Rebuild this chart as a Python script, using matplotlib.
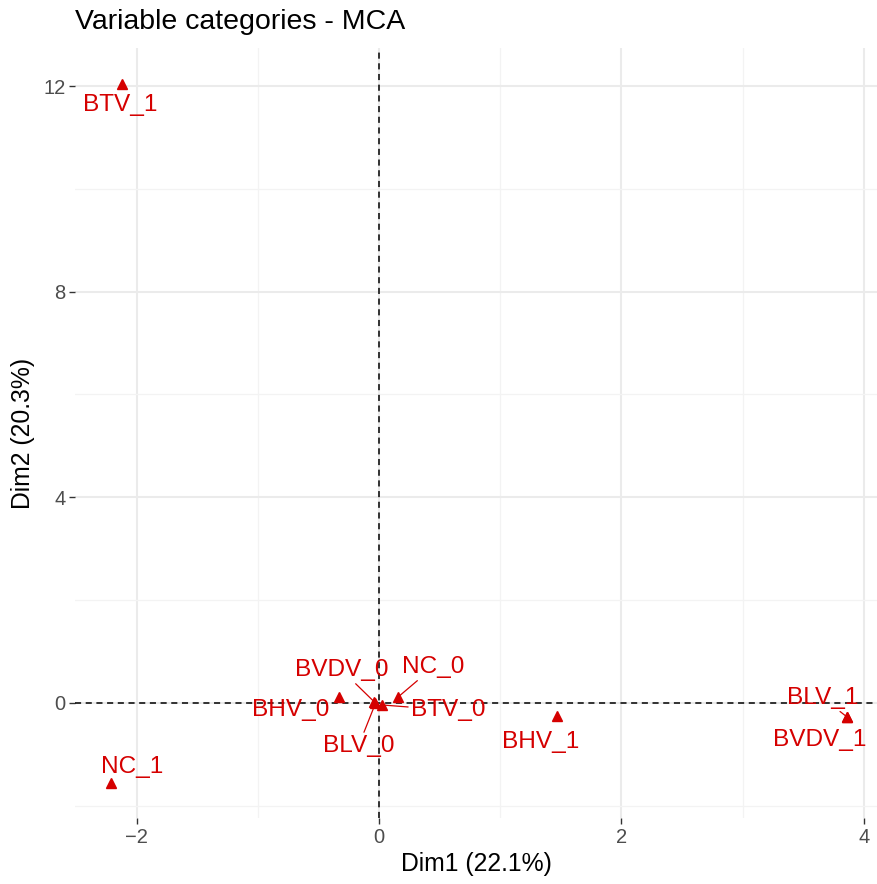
import matplotlib
matplotlib.use("Agg")
import matplotlib.pyplot as plt

plt.rcParams["font.family"] = ["Liberation Sans", "DejaVu Sans"]

# MCA variable category coordinates
categories = ["BTV_1", "NC_1", "BHV_0", "BVDV_0", "BLV_0", "BTV_0",
              "NC_0", "BHV_1", "BLV_1", "BVDV_1"]
dim1 = [-2.12, -2.21, -0.33, -0.04, -0.03, 0.02, 0.16, 1.47, 3.86, 3.86]
dim2 = [12.04, -1.56, 0.12, 0.02, -0.01, -0.04, 0.12, -0.25, -0.27, -0.27]

# repelled label placement (layout only)
label_pos = {
    "BTV_1": (-2.14, 11.63),
    "NC_1": (-2.04, -1.25),
    "BHV_0": (-0.73, -0.14),
    "BVDV_0": (-0.31, 0.64),
    "BLV_0": (-0.17, -0.84),
    "BTV_0": (0.57, -0.14),
    "NC_0": (0.45, 0.70),
    "BHV_1": (1.33, -0.76),
    "BLV_1": (3.66, 0.10),
    "BVDV_1": (3.64, -0.72),
}
with_segment = {"BVDV_0", "BLV_0", "BTV_0", "NC_0", "BLV_1"}

RED = "#D50000"

fig = plt.figure(figsize=(8.77, 8.84), dpi=100)
ax = fig.add_axes([75 / 877, 1 - 818 / 884, (877 - 75) / 877, (818 - 48) / 884])

ax.set_xlim(-2.51, 4.11)
ax.set_ylim(-2.24, 12.74)

ax.set_xticks([-2, 0, 2, 4])
ax.set_yticks([0, 4, 8, 12])
ax.set_xticks([-1, 1, 3], minor=True)
ax.set_yticks([-2, 2, 6, 10], minor=True)
ax.grid(True, which="major", color="#EBEBEB", lw=1.5)
ax.grid(True, which="minor", color="#F3F3F3", lw=0.9)
ax.set_axisbelow(True)
for s in ax.spines.values():
    s.set_visible(False)
ax.tick_params(which="major", length=4, width=1, color="#333333",
               labelsize=14.5, labelcolor="#4D4D4D", pad=3)
ax.tick_params(which="minor", length=0)

ax.axhline(0, color="black", lw=1.1, ls=(0, (4, 3)), zorder=1)
ax.axvline(0, color="black", lw=1.1, ls=(0, (4, 3)), zorder=1)

ax.plot(dim1, dim2, ls="none", marker="^", ms=7, color=RED, zorder=3)

for name, x, y in zip(categories, dim1, dim2):
    tx, ty = label_pos[name]
    if name in with_segment:
        ax.annotate(name, xy=(x, y), xytext=(tx, ty), ha="center", va="center",
                    fontsize=17.6, color=RED, zorder=4,
                    arrowprops=dict(arrowstyle="-", color=RED, lw=0.9,
                                    shrinkA=0, shrinkB=0))
    else:
        ax.text(tx, ty, name, ha="center", va="center", fontsize=17.6,
                color=RED, zorder=4)

ax.set_xlabel("Dim1 (22.1%)", fontsize=17.8, labelpad=4)
ax.set_ylabel("Dim2 (20.3%)", fontsize=17.8, labelpad=6)
fig.text(75 / 877, 1 - 22 / 884, "Variable categories - MCA", fontsize=20.5,
         ha="left", va="center")

fig.savefig("out.png", dpi=100)
